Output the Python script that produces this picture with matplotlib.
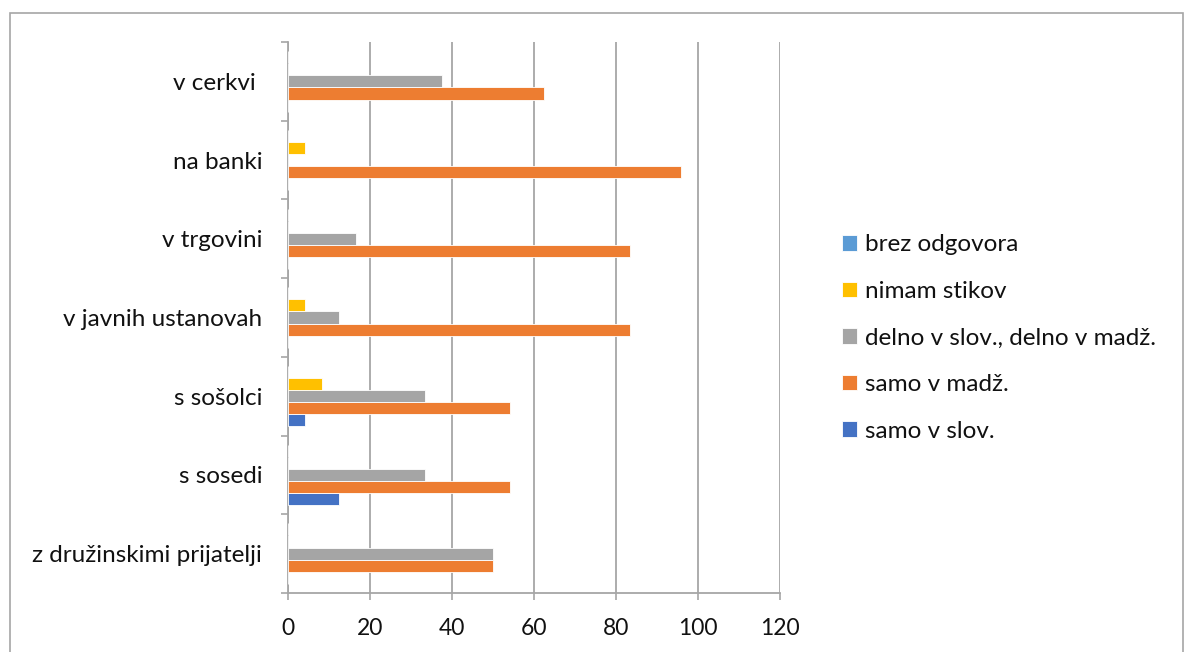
import matplotlib
matplotlib.use("Agg")
import matplotlib.pyplot as plt
import numpy as np
from matplotlib.patches import Rectangle

categories = ["z družinskimi prijatelji", "s sosedi", "s sošolci", "v javnih ustanovah",
              "v trgovini", "na banki", "v cerkvi "]
series_names = ["samo v slov.", "samo v madž.", "delno v slov., delno v madž.",
                "nimam stikov", "brez odgovora"]
samo_slov = [0, 12.5, 4.2, 0, 0, 0, 0]
samo_madz = [50, 54.2, 54.2, 83.3, 83.3, 95.8, 62.5]
delno = [50, 33.3, 33.3, 12.5, 16.7, 0, 37.5]
nimam = [0, 0, 8.3, 4.2, 0, 4.2, 0]
brez = [0, 0, 0, 0, 0, 0, 0]
colors = ["#4472C4", "#ED7D31", "#A5A5A5", "#FFC000", "#5B9BD5"]
xticks = [0, 20, 40, 60, 80, 100, 120]

plt.rcParams['font.family'] = ['Lato', 'DejaVu Sans']

W, H = 1184, 652
fig = plt.figure(figsize=(W/100, H/100), dpi=100)
ax = fig.add_axes([288/W, 1-593/H, (780-288)/W, (593-42)/H])

data = [samo_slov, samo_madz, delno, nimam, brez]
n = len(data)
h = 1/6.5
y = np.arange(len(categories))
handles = []
for j, (vals, c, name) in enumerate(zip(data, colors, series_names)):
    b = ax.barh(y + (j - (n-1)/2) * h, vals, height=h, color=c,
                edgecolor='white', linewidth=0.6, label=name, zorder=3)
    handles.append(b)

ax.set_xlim(0, 120)
ax.set_ylim(-0.5, len(categories) - 0.5)
ax.set_xticks(xticks)
ax.set_xticklabels([str(t) for t in xticks], fontsize=16.5, color='#111111')
ax.set_yticks(np.arange(-0.5, len(categories), 1.0))
ax.set_yticklabels([])
ax.set_yticks(y, minor=True)
ax.set_yticklabels(categories, minor=True, fontsize=17.5, color='#111111')
ax.tick_params(axis='y', which='minor', length=0, pad=18.5)
ax.tick_params(axis='y', which='major', length=5, color='#A6A6A6', width=1.2)
ax.tick_params(axis='x', length=5, color='#A6A6A6', width=1.2, pad=13)
ax.grid(axis='x', color='#A6A6A6', linewidth=1.3, zorder=0)
for s in ['top', 'right']:
    ax.spines[s].set_visible(False)
for s in ['left', 'bottom']:
    ax.spines[s].set_color('#A6A6A6')
    ax.spines[s].set_linewidth(1.3)

leg = fig.legend(handles[::-1], series_names[::-1], loc='center left',
                 bbox_to_anchor=(820/W, 1-338/H), frameon=False, fontsize=17.5,
                 handlelength=0.62, handleheight=0.62, handletextpad=0.35,
                 labelspacing=1.05)
for t in leg.get_texts():
    t.set_color('#111111')

fig.patches.append(Rectangle((10/W, -0.1), (1183-10)/W, 1.1 - 13/H,
                             transform=fig.transFigure, fill=False,
                             edgecolor='#A6A6A6', linewidth=1.2))

fig.savefig("out.png", dpi=100)
